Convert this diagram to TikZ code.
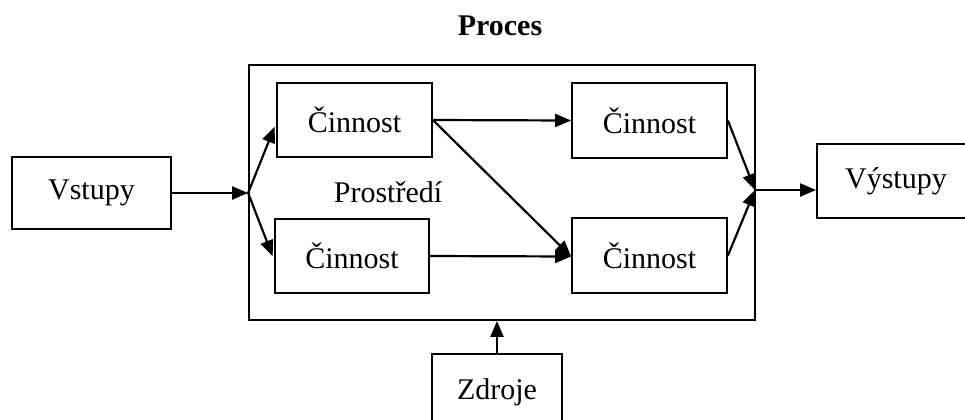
\documentclass[tikz,border=0pt]{standalone}
\usepackage{fontspec}
\setmainfont{Liberation Serif}
\usetikzlibrary{arrows.meta}
\begin{document}
\begin{tikzpicture}[x=0.5pt,y=-0.5pt,
  box/.style={draw, line width=0.9pt, inner sep=0pt, font=\fontsize{15}{18}\selectfont},
  flow/.style={line width=1.1pt, -{Triangle[length=8pt,width=6.5pt]}},
  link/.style={line width=1.1pt}]
  \clip (0,0) rectangle (965,419);
  \fill[white] (0,0) rectangle (965,419);

  % process frame and title
  \node[box, minimum width=253pt, minimum height=127.5pt] (proc) at (502,192.5) {};
  \node[font=\fontsize{15}{18}\selectfont\bfseries] (title) at (500,26) {Proces};
  \node[font=\fontsize{15}{18}\selectfont] (env) at (388,192) {Prostředí};

  % outer inputs, outputs and resources
  \node[box, minimum width=79.5pt, minimum height=36pt] (vstupy) at (91.5,193) {Vstupy};
  \node[box, minimum width=79pt, minimum height=37pt] (vystupy) at (896,181) {Výstupy};
  \node[box, minimum width=65pt, minimum height=38pt] (zdroje) at (497,392) {Zdroje};

  % activities
  \node[box, minimum width=77.5pt, minimum height=37pt] (c1) at (354.5,120) {Činnost};
  \node[box, minimum width=77pt, minimum height=37pt] (c2) at (352,256) {Činnost};
  \node[box, minimum width=77.5pt, minimum height=37.5pt] (c3) at (649.5,120.5) {Činnost};
  \node[box, minimum width=77.5pt, minimum height=37.5pt] (c4) at (649.5,255.5) {Činnost};

  % junction points on the frame
  \coordinate (split) at (proc.west |- vstupy.east);
  \coordinate (merge) at (755,190);

  % connectors
  \draw[flow] (vstupy.east) -- (split);
  \draw[flow, shorten >=2pt] (split) -- ([yshift=-1.5pt]c1.west);
  \draw[flow, shorten >=2pt] (split) -- ([yshift=-2pt]c2.west);
  \draw[flow] (c1.east) -- (c3.west);
  \draw[flow] (c1.east) -- ([yshift=-0.5pt]c4.west);
  \draw[flow] (c2.east) -- ([yshift=-0.5pt]c4.west);
  \draw[flow] (c3.east) -- (merge);
  \draw[flow] (c4.east) -- (merge);
  \draw[flow] (merge) -- (vystupy.west |- merge);
  \draw[flow] (zdroje.north) -- (proc.south -| zdroje.north);
\end{tikzpicture}
\end{document}
